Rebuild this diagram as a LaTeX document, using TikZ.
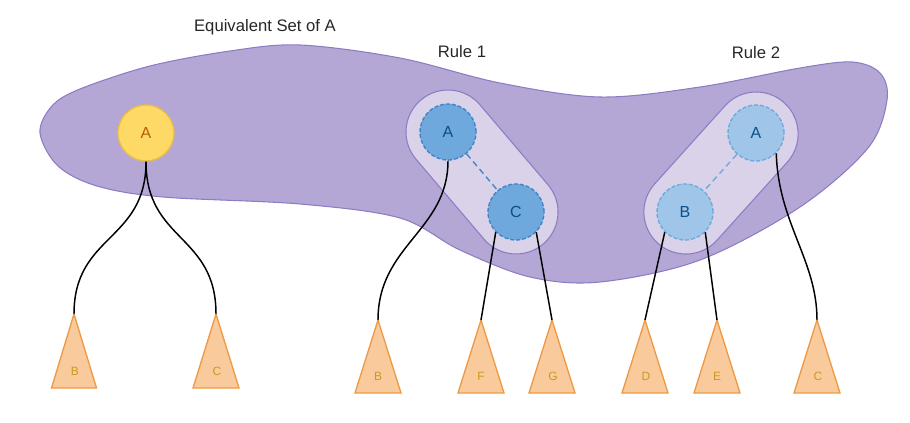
\documentclass[tikz,border=0pt]{standalone}
\usepackage{fontspec}
\setmainfont{Liberation Sans}
\usetikzlibrary{shapes.misc}

\definecolor{setfill}{HTML}{B4A7D6}
\definecolor{setdraw}{HTML}{8E7CC3}
\definecolor{rulefill}{HTML}{D9D2E9}
\definecolor{yfill}{HTML}{FFD966}
\definecolor{ydraw}{HTML}{E8BE45}
\definecolor{ytext}{HTML}{B45F06}
\definecolor{bfill}{HTML}{6FA8DC}
\definecolor{bdraw}{HTML}{3D85C6}
\definecolor{lbfill}{HTML}{9FC5E8}
\definecolor{lbdraw}{HTML}{6FA8DC}
\definecolor{btext}{HTML}{0B4F8A}
\definecolor{tfill}{HTML}{F9CB9C}
\definecolor{tdraw}{HTML}{EE9A45}
\definecolor{ttext}{HTML}{CC9A1E}

\begin{document}
\begin{tikzpicture}[x=0.75pt,y=-0.75pt]
    \tikzset{vertex/.style = {shape=circle,draw,line width=1pt,minimum size=42pt,inner sep=0pt,font=\fontsize{12}{14}\selectfont}}
    \tikzset{yvertex/.style = {vertex,fill=yfill,draw=ydraw,text=ytext}}
    \tikzset{bvertex/.style = {vertex,dash pattern=on 3pt off 1.5pt,fill=bfill,draw=bdraw,text=btext}}
    \tikzset{lbvertex/.style = {vertex,dash pattern=on 3pt off 1.5pt,fill=lbfill,draw=lbdraw,text=btext}}
    \tikzset{rulebox/.style = {rounded rectangle,draw=setdraw,fill=rulefill,line width=0.8pt,minimum width=141.75pt,minimum height=63pt,inner sep=0pt}}
    \tikzset{edge/.style = {line width=1.1pt,black}}
    \tikzset{link/.style = {line width=1pt,dash pattern=on 4.5pt off 3pt}}
    \tikzset{subtree/.style = {fill=tfill,draw=tdraw,line width=1pt,line join=miter}}
    \tikzset{tlabel/.style = {text=ttext,font=\fontsize{9}{10}\selectfont}}
    \tikzset{title/.style = {text=black!85,font=\fontsize{12.5}{15}\selectfont}}
    \useasboundingbox (0,0) rectangle (910,422);

    % equivalent set
    \draw[fill=setfill,draw=setdraw,line width=0.8pt] plot[smooth cycle,tension=0.55] coordinates {
        (40,133) (52,106) (80,89) (150,66) (230,51) (300,45) (400,58) (500,83)
        (600,97) (700,87) (800,68) (852,62) (880,73) (887,100) (868,148)
        (800,207) (700,260) (600,282) (530,277) (460,250) (400,218) (300,204)
        (163,197) (97,186) (58,166)};
    \node[title] (eqset) at (265,27) {Equivalent Set of A};
    \node[title] (rule1) at (462,52) {Rule 1};
    \node[title] (rule2) at (756,53) {Rule 2};

    % rule boxes
    \node[rulebox,rotate=-49.6] (box1) at (482,172) {};
    \node[rulebox,rotate=48] (box2) at (721,173) {};

    % vertices
    \node[yvertex] (a0) at (146,133) {A};
    \node[bvertex] (a1) at (448,132) {A};
    \node[bvertex] (c1) at (516,212) {C};
    \node[lbvertex] (a2) at (756,133) {A};
    \node[lbvertex] (b2) at (685,212) {B};
    \draw[link,bdraw] (a1) -- (c1);
    \draw[link,lbdraw] (a2) -- (b2);

    % subtrees
    \coordinate (tb0) at (74,314);
    \coordinate (tc0) at (216,314);
    \coordinate (tb1) at (378,320);
    \coordinate (tf1) at (481,320);
    \coordinate (tg1) at (552,320);
    \coordinate (td2) at (645,320);
    \coordinate (te2) at (717,320);
    \coordinate (tc2) at (817,320);
    \draw[subtree] (tb0) -- ++(-22.5,74) -- ++(45,0) -- cycle;
    \draw[subtree] (tc0) -- ++(-23,74) -- ++(46,0) -- cycle;
    \draw[subtree] (tb1) -- ++(-23,73) -- ++(46,0) -- cycle;
    \draw[subtree] (tf1) -- ++(-23,73) -- ++(46,0) -- cycle;
    \draw[subtree] (tg1) -- ++(-23,73) -- ++(46,0) -- cycle;
    \draw[subtree] (td2) -- ++(-23,73) -- ++(46,0) -- cycle;
    \draw[subtree] (te2) -- ++(-23,73) -- ++(46,0) -- cycle;
    \draw[subtree] (tc2) -- ++(-23,73) -- ++(46,0) -- cycle;
    \node[tlabel] (lb0) at (75,371) {B};
    \node[tlabel] (lc0) at (217,371) {C};
    \node[tlabel] (lb1) at (378,376) {B};
    \node[tlabel] (lf1) at (481,376) {F};
    \node[tlabel] (lg1) at (553,376) {G};
    \node[tlabel] (ld2) at (646,376) {D};
    \node[tlabel] (le2) at (717,376) {E};
    \node[tlabel] (lc2) at (818,376) {C};

    % edges
    \draw[edge] (a0.south) .. controls +(0,80) and +(0,-80) .. (tb0);
    \draw[edge] (a0.south) .. controls +(0,80) and +(0,-80) .. (tc0);
    \draw[edge] (a1.south) .. controls +(0,70) and +(0,-75) .. (tb1);
    \draw[edge] (c1.south west) -- (tf1);
    \draw[edge] (c1.south east) -- (tg1);
    \draw[edge] (b2.south west) -- (td2);
    \draw[edge] (b2.south east) -- (te2);
    \draw[edge] (a2.south east) .. controls +(2,70) and +(0,-60) .. (tc2);
\end{tikzpicture}
\end{document}
